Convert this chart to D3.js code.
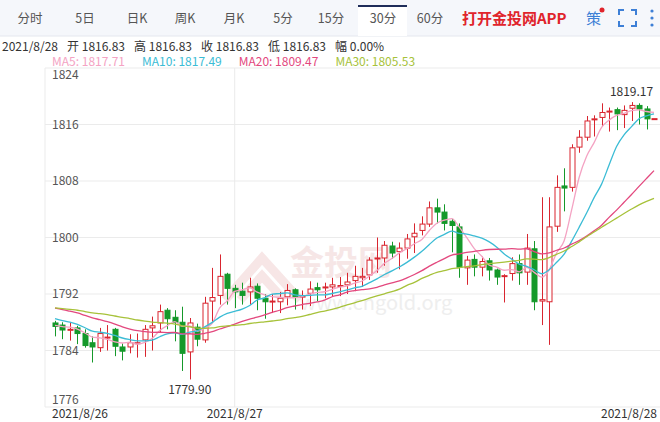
<!DOCTYPE html>
<html><head><meta charset="utf-8">
<script src="https://cdn.jsdelivr.net/npm/d3@7"></script>
<style>
body{margin:0;background:#fff;font-family:"Noto Sans CJK SC","Liberation Sans",sans-serif;}
</style></head><body>
<svg id="chart" width="660" height="422"></svg>
<script>
// 30-min candles, 2021/8/26 - 2021/8/28
const opens  = [1787.9,1787.6,1786.9,1787.2,1786.4,1785.1,1784.4,1785.8,1787.0,1784.5,1784.5,1785.0,1785.5,1787.2,1787.9,1789.7,1788.7,1788.0,1783.8,1787.3,
  1785.5,1791.0,1791.8,1794.8,1792.8,1792.4,1792.3,1793.1,1791.4,1790.9,1790.9,1791.6,1792.6,1791.6,1792.1,1792.9,1792.9,1793.0,1793.1,1793.3,
  1793.9,1794.3,1794.7,1797.0,1797.1,1798.8,1798.0,1798.5,1800.1,1801.0,1801.9,1804.2,1803.6,1802.3,1801.5,1795.7,1796.9,1795.8,1796.7,1795.4,
  1794.5,1794.9,1796.3,1795.1,1798.4,1791.0,1790.9,1801.6,1807.3,1807.1,1812.8,1814.2,1816.7,1817.0,1817.8,1818.1,1817.4,1818.3,1818.7,1818.2,1816.83];
const closes = [1787.4,1786.9,1787.0,1786.4,1784.7,1784.5,1786.4,1785.9,1784.6,1783.9,1785.1,1785.1,1787.0,1787.5,1789.5,1788.5,1788.0,1783.6,1787.9,1785.6,
  1790.7,1791.5,1794.5,1792.8,1792.3,1791.8,1793.0,1791.4,1790.9,1791.0,1791.4,1792.5,1791.6,1791.7,1792.7,1792.6,1793.0,1793.3,1793.2,1793.7,
  1794.5,1794.5,1796.8,1797.1,1798.9,1797.8,1798.5,1799.8,1800.6,1801.9,1804.2,1803.6,1802.0,1801.7,1795.8,1796.8,1795.8,1796.6,1795.4,1794.4,
  1794.6,1796.3,1795.0,1798.5,1790.9,1791.2,1801.5,1807.1,1807.0,1812.7,1814.2,1816.5,1816.8,1817.7,1817.9,1817.5,1818.0,1818.7,1818.2,1816.8,1816.83];
const highs  = [1788.2,1788.0,1788.0,1787.5,1787.0,1786.0,1787.2,1787.6,1787.2,1785.0,1786.3,1786.4,1787.6,1788.8,1790.5,1790.0,1789.7,1790.2,1788.6,1787.8,
  1791.6,1795.7,1797.6,1795.0,1793.3,1793.6,1794.3,1793.5,1792.0,1792.0,1792.3,1793.4,1792.8,1792.5,1793.8,1793.6,1793.6,1794.3,1794.4,1795.0,
  1796.0,1795.7,1797.2,1800.0,1799.5,1799.4,1799.3,1800.5,1802.0,1803.0,1805.1,1805.5,1804.7,1802.6,1802.0,1797.4,1797.6,1797.3,1797.1,1795.6,
  1794.8,1797.2,1797.6,1800.5,1799.5,1805.7,1805.7,1808.8,1809.8,1813.2,1815.2,1817.2,1817.3,1819.0,1818.4,1818.4,1818.7,1819.17,1819.0,1818.6,1816.83];
const lows   = [1786.0,1785.6,1785.4,1784.9,1784.4,1782.3,1783.8,1784.0,1783.2,1782.6,1783.6,1783.0,1783.1,1784.0,1786.5,1787.0,1785.3,1781.1,1779.9,1784.6,
  1785.1,1788.0,1790.5,1790.5,1790.0,1790.5,1790.5,1789.7,1788.5,1789.3,1789.3,1790.4,1789.8,1789.8,1790.3,1791.0,1791.4,1791.7,1791.7,1792.0,
  1792.4,1793.0,1794.0,1795.0,1796.0,1797.0,1795.5,1797.0,1797.8,1800.3,1801.5,1802.0,1801.0,1797.9,1794.3,1793.3,1794.5,1794.5,1793.9,1793.3,
  1790.8,1793.9,1793.3,1793.3,1789.7,1787.6,1784.8,1800.8,1803.7,1806.5,1812.0,1813.7,1814.3,1815.7,1815.0,1815.2,1815.5,1816.5,1816.0,1815.3,1816.83];
// 29 closes before the visible window, used only to seed the moving averages
const prevCloses = [1790.2,1790.6,1789.8,1790.1,1790.4,1789.7,1790.0,1790.3,1789.9,1790.0,
  1791.2,1791.8,1791.4,1791.6,1791.3,1791.7,1791.5,1791.4,1791.6,1791.5,
  1789.8,1789.3,1789.6,1789.4,1789.4,
  1787.8,1787.4,1787.7,1787.5];
const dayLabels = ["2021/8/26","2021/8/27","2021/8/28"];
const dayIndex = [0, 24, 80];
const yTicks = [1776,1784,1792,1800,1808,1816,1824];
const maPeriods = [5,10,20,30];
const maColors = ["#f4a3c3","#3bbcd5","#e3487e","#a7c23a"];
const tabs = ["分时","5日","日K","周K","月K","5分","15分","30分","60分"];
const tabX = [30,85,137,185,234,283,331,383,430];

const svg = d3.select("#chart");
const x = d3.scaleLinear().domain([0,80]).range([55,654]);
const y = d3.scaleLinear().domain([1776,1824]).range([407,68]);

// tab bar
svg.append("rect").attr("width",660).attr("height",36).attr("fill","#f5f7fb");
svg.append("line").attr("x1",0).attr("x2",660).attr("y1",36).attr("y2",36).attr("stroke","#e4e7ee");
svg.append("rect").attr("x",358).attr("y",5).attr("width",49).attr("height",31).attr("fill","#fff");
svg.append("rect").attr("x",358).attr("y",5).attr("width",49).attr("height",2).attr("fill","#1f2d5a");
svg.selectAll(".tab").data(tabs).enter().append("text")
  .attr("x",(d,i)=>tabX[i]).attr("y",23).attr("text-anchor","middle")
  .attr("font-size",12.5).attr("fill","#555").text(d=>d);
svg.append("text").attr("x",462).attr("y",24).attr("font-size",15).attr("font-weight","bold")
  .attr("fill","#e0242b").text("打开金投网APP");
svg.append("text").attr("x",586).attr("y",24).attr("font-size",15).attr("fill","#3d7fd6").text("策");
svg.append("circle").attr("cx",602).attr("cy",10).attr("r",2.5).attr("fill","#e0242b");
svg.append("path").attr("d","M619 15v-5h5 M631 10h5v5 M636 21v5h-5 M624 26h-5v-5")
  .attr("fill","none").attr("stroke","#3d7fd6").attr("stroke-width",2);
[11,18,25].forEach(cy=>svg.append("circle").attr("cx",652).attr("cy",cy).attr("r",1.6).attr("fill","#3d7fd6"));

// info line
const last = closes.length-1;
const info = [["2021/8/28",""],["开",opens[last]],["高",highs[last]],["收",closes[last]],["低",lows[last]],["幅","0.00%"]];
let ix = 2;
info.forEach(([k,v])=>{
  const t = svg.append("text").attr("x",ix).attr("y",51).attr("font-size",12).attr("fill","#333")
    .text(v === "" ? k : `${k} ${typeof v === "number" ? v.toFixed(2) : v}`);
  ix += t.node().getComputedTextLength() + 9;
});

// moving averages
const all = prevCloses.concat(closes);
const ma = maPeriods.map(p => closes.map((c,i) => {
  const j = i + prevCloses.length;
  return d3.mean(all.slice(j-p+1, j+1));
}));
let mx = 52;
maPeriods.forEach((p,k)=>{
  const t = svg.append("text").attr("x",mx).attr("y",66).attr("font-size",12).attr("fill",maColors[k])
    .text(`MA${p}: ${ma[k][last].toFixed(2)}`);
  mx += t.node().getComputedTextLength() + 17;
});

// grid
svg.selectAll(".grid").data(yTicks).enter().append("line")
  .attr("x1",45).attr("x2",660).attr("y1",d=>y(d)).attr("y2",d=>y(d))
  .attr("stroke","#ebebeb");
svg.append("line").attr("x1",x(dayIndex[1])).attr("x2",x(dayIndex[1])).attr("y1",68).attr("y2",407).attr("stroke","#ebebeb");
svg.append("line").attr("x1",45).attr("x2",45).attr("y1",68).attr("y2",407).attr("stroke","#ebebeb");
svg.selectAll(".yl").data(yTicks).enter().append("text")
  .attr("x",52).attr("y",d=> d===1824 ? y(d)+11 : d===1776 ? y(d)-3 : y(d)+4)
  .attr("font-size",12).attr("fill","#555").text(d=>d);

// watermark
svg.append("text").attr("x",290).attr("y",275).attr("font-size",34).attr("font-weight","bold")
  .attr("fill","#f3dcdc").attr("opacity",0.7).text("金投网");
svg.append("path").attr("d","M225 300 L262 258 L300 300 M240 300 L262 276 L284 300")
  .attr("fill","none").attr("stroke","#f3dcdc").attr("stroke-width",9).attr("opacity",0.7);
svg.append("text").attr("x",300).attr("y",310).attr("font-size",20)
  .attr("fill","#eeeeee").text("www.cngold.org");

// candles
const up = "#d9252f", down = "#15992a";
const bw = 5;
const g = svg.append("g");
closes.forEach((c,i)=>{
  const o = opens[i], isUp = c >= o, col = isUp ? up : down;
  const cx = Math.round(x(i)) + 0.5;
  g.append("line").attr("x1",cx).attr("x2",cx).attr("y1",y(highs[i])).attr("y2",y(lows[i]))
    .attr("stroke",col);
  const top = y(Math.max(o,c)), h = Math.max(1, y(Math.min(o,c)) - top);
  g.append("rect").attr("x",cx-bw/2).attr("y",top).attr("width",bw).attr("height",h)
    .attr("fill",isUp ? "#fff" : col).attr("stroke",col);
});

// MA lines
const line = d3.line().x((d,i)=>x(i)).y(d=>y(d)).curve(d3.curveMonotoneX);
ma.forEach((arr,k)=>{
  svg.append("path").datum(arr).attr("d",line).attr("fill","none")
    .attr("stroke",maColors[k]).attr("stroke-width",1.3);
});

// max / min labels
const iMax = d3.maxIndex(highs), iMin = d3.minIndex(lows);
svg.append("text").attr("x",x(iMax)).attr("y",y(highs[iMax])-6).attr("text-anchor","middle")
  .attr("font-size",12).attr("fill","#333").text(highs[iMax].toFixed(2));
svg.append("text").attr("x",x(iMin)).attr("y",y(lows[iMin])+15).attr("text-anchor","middle")
  .attr("font-size",12).attr("fill","#333").text(lows[iMin].toFixed(2));

// date labels
svg.selectAll(".dl").data(dayLabels).enter().append("text")
  .attr("x",(d,i)=> i===0 ? 52 : i===2 ? 657 : x(dayIndex[i]))
  .attr("text-anchor",(d,i)=> i===0 ? "start" : i===2 ? "end" : "middle")
  .attr("y",418).attr("font-size",12).attr("fill","#333").text(d=>d);
</script>
</body></html>
